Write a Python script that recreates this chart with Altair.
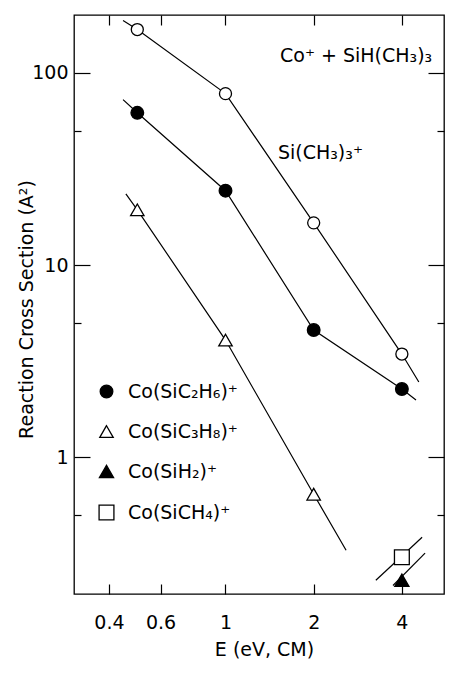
import altair as alt
import pandas as pd

FONT = "DejaVu Sans"

# ---- series names ----
S_ME3 = "Si(CH₃)₃⁺"
S_C2H6 = "Co(SiC₂H₆)⁺"
S_C3H8 = "Co(SiC₃H₈)⁺"
S_SIH2 = "Co(SiH₂)⁺"
S_SICH4 = "Co(SiCH₄)⁺"
legend_series = [S_C2H6, S_C3H8, S_SIH2, S_SICH4]

# ---- measured points (E in eV CM, cross section in A^2) ----
me3_E = [0.5, 1, 2, 4]
me3_sigma = [168, 78, 16.6, 3.45]
c2h6_E = [0.5, 1, 2, 4]
c2h6_sigma = [62, 24.4, 4.6, 2.27]
c3h8_E = [0.5, 1, 2]
c3h8_sigma = [19.4, 4.08, 0.644]
sih2_E = [4]
sih2_sigma = [0.23]
sich4_E = [4]
sich4_sigma = [0.303]

# ---- drawn lines (including their overhangs) ----
me3_line_E = [0.447, 0.5, 1, 2, 4, 4.57]
me3_line_sigma = [187, 168, 78, 16.6, 3.45, 2.47]
c2h6_line_E = [0.447, 0.5, 1, 2, 4, 4.47]
c2h6_line_sigma = [72.6, 62, 24.4, 4.6, 2.27, 1.99]
c3h8_line_E = [0.457, 0.5, 1, 2, 2.58]
c3h8_line_sigma = [23.5, 19.4, 4.08, 0.644, 0.329]
sich4_line_E = [3.26, 4.69]
sich4_line_sigma = [0.23, 0.385]
sih2_line_E = [3.73, 4.80]
sih2_line_sigma = [0.216, 0.318]

# ---- annotations ----
note_text = ["Co⁺ + SiH(CH₃)₃", S_ME3]
note_E = [1.535, 1.51]
note_sigma = [123, 38.5]

# ---- axis ticks ----
x_ticks = [0.4, 0.6, 1, 2, 4]
y_major = [1, 10, 100]
y_minor = [0.5, 5, 50]


def frame(series, xs, ys):
    return pd.DataFrame({"series": series, "E": xs, "sigma": ys, "i": range(len(xs))})


lines_df = pd.concat([
    frame(S_ME3, me3_line_E, me3_line_sigma),
    frame(S_C2H6, c2h6_line_E, c2h6_line_sigma),
    frame(S_C3H8, c3h8_line_E, c3h8_line_sigma),
    frame(S_SICH4, sich4_line_E, sich4_line_sigma),
    frame(S_SIH2, sih2_line_E, sih2_line_sigma),
], ignore_index=True)

pts_df = pd.concat([
    frame(S_C2H6, c2h6_E, c2h6_sigma),
    frame(S_C3H8, c3h8_E, c3h8_sigma),
    frame(S_SIH2, sih2_E, sih2_sigma),
    frame(S_SICH4, sich4_E, sich4_sigma),
], ignore_index=True)

open_df = frame(S_ME3, me3_E, me3_sigma)
note_df = pd.DataFrame({"label": note_text, "E": note_E, "sigma": note_sigma})

xscale = alt.Scale(type="log", domain=[0.304, 5.57], nice=False)
yscale = alt.Scale(type="log", domain=[0.195, 200], nice=False)

common = dict(domain=False, grid=False, tickColor="black", tickWidth=1.2,
              labelColor="black", titleColor="black", labelFont=FONT, titleFont=FONT)

x_bottom = alt.Axis(orient="bottom", values=x_ticks, format="~g", offset=-10, tickSize=10,
                    labelPadding=28, labelBaseline="middle", labelFontSize=19, labelOverlap=False,
                    title="E (eV, CM)", titleFontSize=19, titleFontWeight="normal",
                    titleX=190, titleY=65, titleAlign="center", titleBaseline="middle", **common)
x_top = alt.Axis(orient="top", values=x_ticks, offset=-10, tickSize=10, labels=False,
                 title=None, **common)
y_left_major = alt.Axis(orient="left", values=y_major, format="~g", offset=-16, tickSize=16,
                        labelPadding=6, labelFontSize=19, labelOverlap=False,
                        title="Reaction Cross Section (A²)", titleFontSize=19,
                        titleFontWeight="normal", titleX=-64, titleY=294, titleAngle=270,
                        titleAlign="center", titleBaseline="middle", **common)
y_left_minor = alt.Axis(orient="left", values=y_minor, offset=-7, tickSize=7, labels=False,
                        title=None, **common)
y_right_major = alt.Axis(orient="right", values=y_major, offset=-16, tickSize=16, labels=False,
                         title=None, **common)
y_right_minor = alt.Axis(orient="right", values=y_minor, offset=-7, tickSize=7, labels=False,
                         title=None, **common)

legend = alt.Legend(title=None, orient="none", legendX=23, legendY=367, padding=0,
                    labelFont=FONT, labelFontSize=19, labelColor="black",
                    symbolStrokeWidth=1.3, rowPadding=20, labelOffset=12)

lines = alt.Chart(lines_df).mark_line(color="black", strokeWidth=1.2).encode(
    x=alt.X("E:Q", scale=xscale, axis=x_bottom),
    y=alt.Y("sigma:Q", scale=yscale, axis=y_left_major),
    detail="series:N",
    order="i:Q",
)

pts = alt.Chart(pts_df).mark_point(filled=True, strokeWidth=1.3, opacity=1).encode(
    x=alt.X("E:Q", scale=xscale, axis=x_top),
    y=alt.Y("sigma:Q", scale=yscale, axis=y_left_minor),
    shape=alt.Shape("series:N", scale=alt.Scale(domain=legend_series,
                    range=["circle", "triangle-up", "triangle-up", "square"]), legend=legend),
    fill=alt.Fill("series:N", scale=alt.Scale(domain=legend_series,
                  range=["black", "white", "black", "white"]), legend=legend),
    stroke=alt.Stroke("series:N", scale=alt.Scale(domain=legend_series,
                      range=["black", "black", "black", "black"]), legend=legend),
    size=alt.Size("series:N", scale=alt.Scale(domain=legend_series,
                  range=[160, 220, 220, 180]), legend=legend),
)

open_pts = alt.Chart(open_df).mark_point(shape="circle", filled=True, fill="white", stroke="black",
                                         strokeWidth=1.3, opacity=1, size=145).encode(
    x=alt.X("E:Q", scale=xscale, axis=None),
    y=alt.Y("sigma:Q", scale=yscale, axis=y_right_major),
)

notes = alt.Chart(note_df).mark_text(align="left", baseline="middle", font=FONT, fontSize=19,
                                     color="black").encode(
    x=alt.X("E:Q", scale=xscale, axis=None),
    y=alt.Y("sigma:Q", scale=yscale, axis=y_right_minor),
    text="label:N",
)

chart = alt.layer(lines, pts, open_pts, notes).resolve_axis(
    x="independent", y="independent"
).properties(
    width=370, height=579,
    autosize=alt.AutoSizeParams(type="none"),
    padding={"left": 66, "top": 7, "right": 1, "bottom": 70},
    background="white",
).configure_view(stroke="black", strokeWidth=1.3)

chart.save("out.html", embed_options={"renderer": "svg", "actions": False})
